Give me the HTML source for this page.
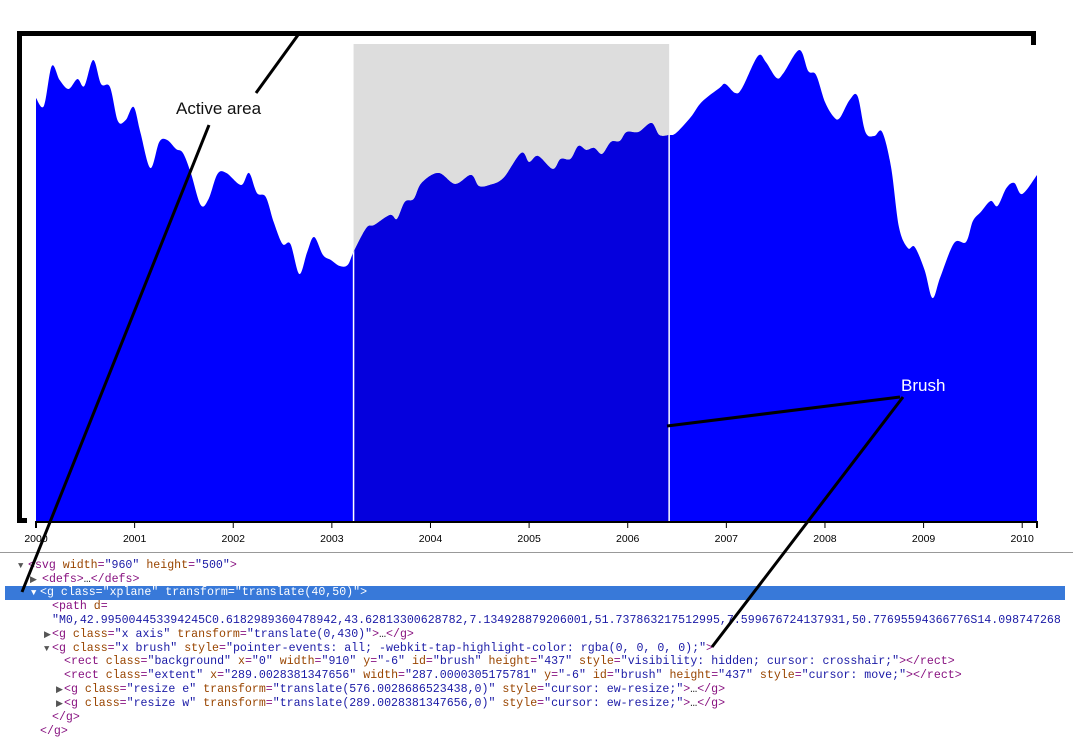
<!DOCTYPE html>
<html><head><meta charset="utf-8">
<style>
body{margin:0;background:#fff;width:1073px;height:744px;overflow:hidden;position:relative;font-family:"Liberation Sans",sans-serif}
#dev{position:absolute;left:0;top:552px;width:1073px;height:192px;border-top:1px solid #999;font-family:"Liberation Mono",monospace;font-size:11.6px;white-space:pre}
.r{position:absolute;height:14px;line-height:14px}
.t{color:#881280}.a{color:#994500}.v{color:#1a1aa6}.s{color:#222}
.hl{background:#3879d9;left:5px;width:1060px}
.hl span{color:#fff!important}
.tri{position:absolute;color:#555;font-size:9px}
</style></head><body>
<svg id="chart" width="1073" height="552" style="position:absolute;left:0;top:0">
  <g id="marks"></g>
  <g id="axis"></g>
  <g>
    <rect x="17" y="31" width="1019" height="5" fill="#000"/>
    <rect x="17" y="31" width="5" height="492" fill="#000"/>
    <rect x="17" y="518" width="10" height="5" fill="#000"/>
    <rect x="1031" y="31" width="5" height="14" fill="#000"/>
  </g>
  <text x="176" y="114" font-size="17" fill="#111">Active area</text>
  <text x="901" y="391" font-size="17" fill="#fff">Brush</text>
</svg>
<div id="dev">
<div class="r" style="top:6px;left:18px"><span class="tri">▼</span></div>
<div class="r" style="top:6px;left:28px"><span class="t">&lt;svg </span><span class="a">width</span><span class="t">=</span><span class="v">"960"</span><span class="a"> height</span><span class="t">=</span><span class="v">"500"</span><span class="t">&gt;</span></div>
<div class="r" style="top:20px;left:30px"><span class="tri">▶</span></div>
<div class="r" style="top:20px;left:42px"><span class="t">&lt;defs&gt;</span><span class="s">…</span><span class="t">&lt;/defs&gt;</span></div>
<div class="r hl" style="top:33px"><span style="position:absolute;left:26px;font-size:9px">▼</span><span style="position:absolute;left:35px"><span class="t">&lt;g </span><span class="a">class</span><span class="t">=</span><span class="v">"xplane"</span><span class="a"> transform</span><span class="t">=</span><span class="v">"translate(40,50)"</span><span class="t">&gt;</span></span></div>
<div class="r" style="top:47px;left:52px"><span class="t">&lt;path </span><span class="a">d</span><span class="t">=</span></div>
<div class="r" style="top:61px;left:52px"><span class="v">"M0,42.995004453394245C0.6182989360478942,43.62813300628782,7.134928879206001,51.737863217512995,7.599676724137931,50.77695594366776S14.098747268</span></div>
<div class="r" style="top:75px;left:44px"><span class="tri">▶</span></div>
<div class="r" style="top:75px;left:52px"><span class="t">&lt;g </span><span class="a">class</span><span class="t">=</span><span class="v">"x axis"</span><span class="a"> transform</span><span class="t">=</span><span class="v">"translate(0,430)"</span><span class="t">&gt;</span><span class="s">…</span><span class="t">&lt;/g&gt;</span></div>
<div class="r" style="top:89px;left:44px"><span class="tri">▼</span></div>
<div class="r" style="top:89px;left:52px"><span class="t">&lt;g </span><span class="a">class</span><span class="t">=</span><span class="v">"x brush"</span><span class="a"> style</span><span class="t">=</span><span class="v">"pointer-events: all; -webkit-tap-highlight-color: rgba(0, 0, 0, 0);"</span><span class="t">&gt;</span></div>
<div class="r" style="top:102px;left:64px"><span class="t">&lt;rect </span><span class="a">class</span><span class="t">=</span><span class="v">"background"</span><span class="a"> x</span><span class="t">=</span><span class="v">"0"</span><span class="a"> width</span><span class="t">=</span><span class="v">"910"</span><span class="a"> y</span><span class="t">=</span><span class="v">"-6"</span><span class="a"> id</span><span class="t">=</span><span class="v">"brush"</span><span class="a"> height</span><span class="t">=</span><span class="v">"437"</span><span class="a"> style</span><span class="t">=</span><span class="v">"visibility: hidden; cursor: crosshair;"</span><span class="t">&gt;&lt;/rect&gt;</span></div>
<div class="r" style="top:116px;left:64px"><span class="t">&lt;rect </span><span class="a">class</span><span class="t">=</span><span class="v">"extent"</span><span class="a"> x</span><span class="t">=</span><span class="v">"289.0028381347656"</span><span class="a"> width</span><span class="t">=</span><span class="v">"287.0000305175781"</span><span class="a"> y</span><span class="t">=</span><span class="v">"-6"</span><span class="a"> id</span><span class="t">=</span><span class="v">"brush"</span><span class="a"> height</span><span class="t">=</span><span class="v">"437"</span><span class="a"> style</span><span class="t">=</span><span class="v">"cursor: move;"</span><span class="t">&gt;&lt;/rect&gt;</span></div>
<div class="r" style="top:130px;left:56px"><span class="tri">▶</span></div>
<div class="r" style="top:130px;left:64px"><span class="t">&lt;g </span><span class="a">class</span><span class="t">=</span><span class="v">"resize e"</span><span class="a"> transform</span><span class="t">=</span><span class="v">"translate(576.0028686523438,0)"</span><span class="a"> style</span><span class="t">=</span><span class="v">"cursor: ew-resize;"</span><span class="t">&gt;</span><span class="s">…</span><span class="t">&lt;/g&gt;</span></div>
<div class="r" style="top:144px;left:56px"><span class="tri">▶</span></div>
<div class="r" style="top:144px;left:64px"><span class="t">&lt;g </span><span class="a">class</span><span class="t">=</span><span class="v">"resize w"</span><span class="a"> transform</span><span class="t">=</span><span class="v">"translate(289.0028381347656,0)"</span><span class="a"> style</span><span class="t">=</span><span class="v">"cursor: ew-resize;"</span><span class="t">&gt;</span><span class="s">…</span><span class="t">&lt;/g&gt;</span></div>
<div class="r" style="top:158px;left:52px"><span class="t">&lt;/g&gt;</span></div>
<div class="r" style="top:172px;left:40px"><span class="t">&lt;/g&gt;</span></div>
</div>
<svg width="1073" height="744" style="position:absolute;left:0;top:0;pointer-events:none">
  <g stroke="#000" stroke-width="3" fill="none">
    <line x1="298" y1="35" x2="256" y2="93"/>
    <line x1="209" y1="125" x2="22" y2="592"/>
    <line x1="900" y1="397" x2="667" y2="426"/>
    <line x1="903" y1="397" x2="712" y2="647"/>
  </g>
</svg>
<script>
const years = [2000,2000.08,2000.16,2000.24,2000.33,2000.42,2000.49,2000.58,2000.66,2000.75,2000.83,2000.91,2000.99,2001.06,2001.16,2001.25,2001.33,2001.42,2001.49,2001.57,2001.67,2001.75,2001.84,2001.93,2002.08,2002.16,2002.24,2002.33,2002.41,2002.5,2002.58,2002.67,2002.75,2002.82,2002.91,2002.99,2003.08,2003.16,2003.22,2003.35,2003.43,2003.59,2003.66,2003.74,2003.83,2003.91,2004.08,2004.25,2004.41,2004.49,2004.6,2004.74,2004.92,2005,2005.09,2005.24,2005.32,2005.42,2005.5,2005.58,2005.66,2005.74,2005.83,2005.92,2005.99,2006.11,2006.24,2006.32,2006.42,2006.49,2006.64,2006.75,2006.93,2006.99,2007.09,2007.16,2007.32,2007.4,2007.51,2007.58,2007.74,2007.83,2007.91,2008,2008.09,2008.15,2008.25,2008.33,2008.41,2008.5,2008.58,2008.67,2008.75,2008.84,2008.91,2009.01,2009.09,2009.17,2009.31,2009.43,2009.5,2009.58,2009.68,2009.75,2009.84,2009.92,2010,2010.15];
const values = [424,416,456,442,433,443,436,462,438,435,401,402,415,389,354,380,382,373,369,349,317,323,348,349,337,349,329,325,300,278,278,248,270,285,267,262,256,257,270,294,297,307,303,320,323,339,349,338,347,336,337,344,369,360,366,353,363,363,376,372,374,368,380,381,390,390,399,387,387,389,405,420,434,438,429,434,466,460,444,449,472,451,447,420,405,404,422,426,390,386,390,355,295,274,275,252,224,245,279,280,301,310,321,316,334,339,328,347];
const tickYears = [2000,2001,2002,2003,2004,2005,2006,2007,2008,2009,2010];
const brushExtent = [2003.22, 2006.42];
const NS='http://www.w3.org/2000/svg';
const X0=36,X1=1037,Y0=522,YT=44;
const xs=y=>X0+(y-2000)/(2010.15-2000)*(X1-X0);
const ys=v=>Y0-v/478*(Y0-YT);
const pts=years.map((t,i)=>[xs(t),ys(values[i])]);
let d=`M${pts[0][0]},${Y0}L${pts[0][0]},${pts[0][1]}`;
for(let i=0;i<pts.length-1;i++){const p0=pts[Math.max(0,i-1)],p1=pts[i],p2=pts[i+1],p3=pts[Math.min(pts.length-1,i+2)];
d+=`C${p1[0]+(p2[0]-p0[0])/6},${p1[1]+(p2[1]-p0[1])/6},${p2[0]-(p3[0]-p1[0])/6},${p2[1]-(p3[1]-p1[1])/6},${p2[0]},${p2[1]}`;}
d+=`L${pts[pts.length-1][0]},${Y0}Z`;
const m=document.getElementById('marks');
const bx0=xs(brushExtent[0]),bx1=xs(brushExtent[1]);
m.innerHTML=`<defs><clipPath id="cp"><rect x="${bx0}" y="0" width="${bx1-bx0}" height="${Y0}"/></clipPath><clipPath id="ca"><path d="${d}"/></clipPath></defs>`;
const ext=document.createElementNS(NS,'rect');


ext.setAttribute('x',bx0);ext.setAttribute('y',YT);ext.setAttribute('width',bx1-bx0);ext.setAttribute('height',Y0-YT);ext.setAttribute('fill','#dddddd');
m.appendChild(ext);
const area=document.createElementNS(NS,'path');


area.setAttribute('d',d);area.setAttribute('fill','#0000ff');m.appendChild(area);
const area2=document.createElementNS(NS,'path');


area2.setAttribute('d',d);area2.setAttribute('fill','#0500dd');area2.setAttribute('clip-path','url(#cp)');m.appendChild(area2);
const lg=document.createElementNS(NS,'g');lg.setAttribute('clip-path','url(#ca)');m.appendChild(lg);
[bx0,bx1].forEach((bx,i)=>{const l=document.createElementNS(NS,'line');


l.setAttribute('x1',bx);l.setAttribute('x2',bx);l.setAttribute('y1',YT);l.setAttribute('y2',Y0);l.setAttribute('stroke','#fff');l.setAttribute('stroke-width','1.5');lg.appendChild(l);});
const ax=document.getElementById('axis');
const dom=document.createElementNS(NS,'path');


dom.setAttribute('d',`M${X0},${Y0+6}V${Y0}H${X1}V${Y0+6}`);dom.setAttribute('stroke','#000');dom.setAttribute('stroke-width','2');dom.setAttribute('fill','none');ax.appendChild(dom);
tickYears.forEach(t=>{const x=xs(t);
const tk=document.createElementNS(NS,'line');


tk.setAttribute('x1',x);tk.setAttribute('x2',x);tk.setAttribute('y1',Y0);tk.setAttribute('y2',Y0+6);tk.setAttribute('stroke','#000');ax.appendChild(tk);
const tx=document.createElementNS(NS,'text');


tx.setAttribute('x',x);tx.setAttribute('y',Y0+20);tx.setAttribute('text-anchor','middle');tx.setAttribute('font-size','10.5');tx.textContent=t;ax.appendChild(tx);});
</script>
</body></html>
